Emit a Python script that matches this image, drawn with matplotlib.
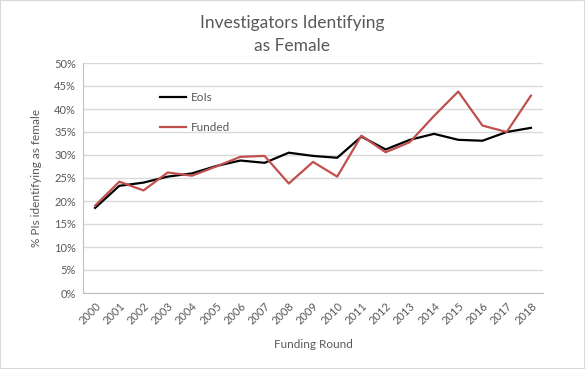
import matplotlib
matplotlib.use("Agg")
import matplotlib.pyplot as plt
from matplotlib.ticker import FuncFormatter
from matplotlib.patches import Rectangle

years = [str(y) for y in range(2000, 2019)]
eois = [18.5, 23.3, 24.0, 25.3, 26.0, 27.6, 28.8, 28.3, 30.5, 29.8, 29.4,
        34.0, 31.2, 33.3, 34.6, 33.3, 33.1, 35.0, 35.9]
funded = [19.0, 24.2, 22.3, 26.2, 25.5, 27.5, 29.6, 29.8, 23.8, 28.5, 25.3,
          34.2, 30.6, 32.8, 38.5, 43.8, 36.4, 35.0, 42.9]
yticks = list(range(0, 55, 5))

txt = "#595959"
plt.rcParams['font.family'] = ['Lato', 'DejaVu Sans']

fig = plt.figure(figsize=(5.85, 3.69), dpi=100)
fig.patches.append(Rectangle((0, 0), 1, 1, transform=fig.transFigure,
                             fill=False, edgecolor="#d9d9d9", linewidth=1.5))
ax = fig.add_axes([83/585, 1-293/369, 460/585, 230/369])

x = list(range(len(years)))
ax.plot(x, eois, color="black", lw=1.6, label="EoIs")
ax.plot(x, funded, color="#c0504d", lw=1.6, label="Funded")

ax.set_xlim(-0.5, len(years)-0.5)
ax.set_ylim(0, 50)
ax.set_yticks(yticks)
ax.yaxis.set_major_formatter(FuncFormatter(lambda v, p: f"{int(v)}%"))
ax.set_xticks(x)
ax.set_xticklabels(years, rotation=45, ha="right", rotation_mode="anchor")
ax.grid(axis="y", color="#d9d9d9", lw=1)
ax.set_axisbelow(True)
for s in ["top", "right"]:
    ax.spines[s].set_visible(False)
for s in ["left", "bottom"]:
    ax.spines[s].set_color("#bfbfbf")
ax.tick_params(length=0, colors=txt, labelsize=8)
ax.tick_params(axis="x", pad=5)
ax.tick_params(axis="y", pad=5)

ax.set_ylabel("% PIs identifying as female", color=txt, fontsize=8.5)
ax.yaxis.set_label_coords(-0.09, 0.5)
ax.set_xlabel("Funding Round", color=txt, fontsize=8.5)
ax.xaxis.set_label_coords(0.5, -0.2)

fig.text(0.5, 1-23/369, "Investigators Identifying", ha="center", va="center",
         color=txt, fontsize=12.5)
fig.text(0.5, 1-46/369, "as Female", ha="center", va="center",
         color=txt, fontsize=12.5)

leg = ax.legend(loc="upper left", bbox_to_anchor=(0.167, 0.873), frameon=False,
                fontsize=8.5, handlelength=2.2, handletextpad=0.4,
                labelspacing=1.6, borderpad=0, borderaxespad=0)
for t in leg.get_texts():
    t.set_color(txt)

fig.savefig("out.png", dpi=100)
